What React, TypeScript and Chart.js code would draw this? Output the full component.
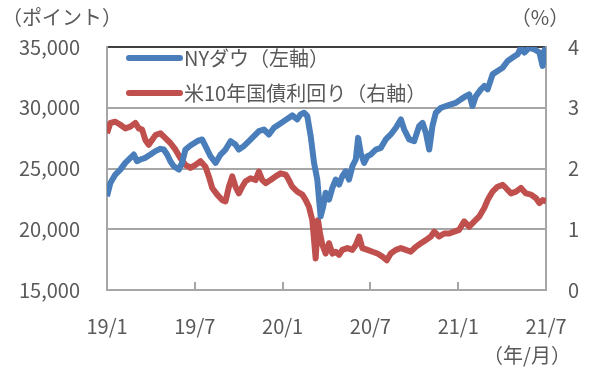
import React, { useEffect, useRef } from "react";
import { Chart, registerables } from "chart.js";

Chart.register(...registerables);

const xTickLabels = ["19/1", "19/7", "20/1", "20/7", "21/1", "21/7"];
const seriesNames = ["NYダウ（左軸）", "米10年国債利回り（右軸）"];

// months since 2019/1
const dowMonths = [
  0, 0.23, 0.57, 0.91, 1.25, 1.6, 1.83, 2.05, 2.28, 2.62,
  2.97, 3.31, 3.65, 3.88, 4.11, 4.33, 4.56, 4.91, 5.13, 5.36,
  5.7, 6.16, 6.5, 6.73, 7.07, 7.42, 7.76, 8.1, 8.44, 8.78,
  9.01, 9.35, 9.7, 10.04, 10.38, 10.72, 11.07, 11.41, 11.75, 12.09,
  12.43, 12.66, 13.0, 13.23, 13.46, 13.69, 13.92, 14.15, 14.37, 14.49,
  14.6, 14.78, 14.94, 15.17, 15.4, 15.63, 15.86, 16.08, 16.31, 16.54,
  16.77, 17.0, 17.16, 17.34, 17.57, 17.8, 18.02, 18.37, 18.71, 19.05,
  19.39, 19.74, 20.08, 20.31, 20.65, 20.99, 21.33, 21.56, 21.79, 22.02,
  22.24, 22.47, 22.82, 23.16, 23.5, 23.84, 24.18, 24.53, 24.75, 24.98,
  25.21, 25.55, 25.78, 26.01, 26.35, 26.69, 27.04, 27.38, 27.72, 28.06,
  28.29, 28.52, 28.86, 29.2, 29.55, 29.77, 29.88, 30.0,
];
const dowValues = [
  22710, 23810, 24500, 24910, 25460, 25880, 26150, 25600, 25740, 25880,
  26150, 26430, 26620, 26560, 26150, 25600, 25190, 24910, 25460, 26560,
  26890, 27250, 27390, 26840, 26010, 25460, 26150, 26560, 27250, 26970,
  26560, 26840, 27250, 27660, 28070, 28210, 27800, 28350, 28620, 28900,
  29180, 29370, 29040, 29450, 29590, 29310, 27660, 25460, 24090, 22440,
  21060, 21890, 23000, 22440, 23400, 24090, 23680, 24360, 24770, 24090,
  25190, 25740, 27520, 26290, 25460, 26010, 26150, 26560, 26700, 27390,
  27800, 28350, 29040, 28210, 27390, 27250, 28490, 28760, 27940, 26560,
  28490, 29590, 30000, 30140, 30280, 30410, 30690, 30960, 31100, 30140,
  30960, 31510, 31790, 31510, 32750, 33030, 33300, 33850, 34130, 34400,
  34950, 34540, 34950, 34810, 34540, 33440, 34680, 34950,
];

const yieldMonths = [
  0, 0.23, 0.57, 0.91, 1.25, 1.6, 1.94, 2.17, 2.4, 2.62,
  2.85, 3.08, 3.31, 3.65, 3.99, 4.33, 4.68, 5.02, 5.36, 5.7,
  6.05, 6.39, 6.73, 6.96, 7.19, 7.53, 7.87, 8.1, 8.33, 8.56,
  8.78, 9.01, 9.24, 9.47, 9.81, 10.15, 10.38, 10.61, 10.84, 11.18,
  11.52, 11.86, 12.21, 12.43, 12.66, 13.0, 13.35, 13.58, 13.8, 14.03,
  14.26, 14.42, 14.56, 14.72, 14.94, 15.17, 15.4, 15.63, 15.86, 16.08,
  16.43, 16.77, 17.0, 17.23, 17.45, 17.8, 18.14, 18.48, 18.82, 19.12,
  19.39, 19.74, 20.08, 20.42, 20.76, 21.1, 21.45, 21.79, 22.13, 22.36,
  22.7, 23.04, 23.39, 23.73, 24.07, 24.41, 24.75, 25.1, 25.44, 25.78,
  26.01, 26.35, 26.69, 27.04, 27.26, 27.61, 27.95, 28.29, 28.63, 28.98,
  29.32, 29.55, 29.77, 30.0,
];
const yieldValues = [
  2.58, 2.75, 2.77, 2.72, 2.66, 2.69, 2.75, 2.66, 2.64, 2.47,
  2.39, 2.47, 2.55, 2.58, 2.5, 2.42, 2.31, 2.17, 2.06, 2.01,
  2.06, 2.12, 2.03, 1.87, 1.68, 1.57, 1.48, 1.46, 1.7, 1.87,
  1.7, 1.59, 1.7, 1.79, 1.84, 1.81, 1.95, 1.81, 1.76, 1.81,
  1.87, 1.92, 1.9, 1.81, 1.7, 1.62, 1.57, 1.48, 1.37, 1.15,
  0.52, 1.15, 0.93, 0.74, 0.6, 0.77, 0.6, 0.63, 0.58, 0.66,
  0.69, 0.66, 0.74, 0.88, 0.69, 0.66, 0.63, 0.6, 0.55, 0.49,
  0.6, 0.66, 0.69, 0.66, 0.63, 0.71, 0.77, 0.82, 0.88, 0.96,
  0.88, 0.93, 0.93, 0.96, 0.99, 1.13, 1.04, 1.13, 1.21, 1.35,
  1.48, 1.62, 1.7, 1.73, 1.68, 1.59, 1.62, 1.68, 1.59, 1.57,
  1.51, 1.43, 1.48, 1.46,
];

const BLUE = "#4a7ebb";
const RED = "#c0504d";
const TEXT = "#595959";
const GRID = "#a6a6a6";
const FONT = "'Noto Sans CJK JP', 'Noto Sans', sans-serif";

export default function App() {
  const ref = useRef<HTMLCanvasElement | null>(null);
  useEffect(() => {
    if (!ref.current) return;
    const overlay = {
      id: "overlay",
      afterDraw(chart: any) {
        const { ctx, chartArea } = chart;
        const xs = chart.scales.x;
        ctx.save();
        // inward x ticks
        ctx.strokeStyle = GRID;
        ctx.lineWidth = 2;
        for (let v = 6; v < 30; v += 6) {
          const px = Math.round(xs.getPixelForValue(v));
          ctx.beginPath();
          ctx.moveTo(px, chartArea.bottom);
          ctx.lineTo(px, chartArea.bottom - 8);
          ctx.stroke();
        }
        // legend
        ctx.lineCap = "round";
        ctx.lineWidth = 6;
        const ly = [58, 93];
        const colors = [BLUE, RED];
        ctx.font = `20px ${FONT}`;
        ctx.textBaseline = "middle";
        ctx.textAlign = "left";
        for (let i = 0; i < 2; i++) {
          ctx.strokeStyle = colors[i];
          ctx.beginPath();
          ctx.moveTo(129, ly[i]);
          ctx.lineTo(180, ly[i]);
          ctx.stroke();
          ctx.fillStyle = TEXT;
          ctx.fillText(seriesNames[i], 184, ly[i]);
        }
        // axis titles
        ctx.textAlign = "center";
        ctx.fillText("（ポイント）", 62, 17);
        ctx.fillText("（%）", 540, 17);
        ctx.fillText("（年/月）", 527, 355);
        ctx.restore();
      },
    };
    const chart = new Chart(ref.current, {
      type: "line",
      data: {
        datasets: [
          {
            label: seriesNames[0],
            data: dowMonths.map((m, i) => ({ x: m, y: dowValues[i] })),
            borderColor: BLUE,
            borderWidth: 6,
            borderJoinStyle: "round",
            pointRadius: 0,
            yAxisID: "y",
            tension: 0,
          },
          {
            label: seriesNames[1],
            data: yieldMonths.map((m, i) => ({ x: m, y: yieldValues[i] })),
            borderColor: RED,
            borderWidth: 6,
            borderJoinStyle: "round",
            pointRadius: 0,
            yAxisID: "y2",
            tension: 0,
          },
        ],
      },
      plugins: [overlay],
      options: {
        animation: false,
        responsive: false,
        maintainAspectRatio: false,
        layout: { padding: { top: 47, left: 0, right: 0, bottom: 0 } },
        plugins: { legend: { display: false }, tooltip: { enabled: false } },
        scales: {
          x: {
            type: "linear",
            min: 0,
            max: 30,
            afterFit(s: any) { s.height = 81; },
            afterBuildTicks(s: any) {
              s.ticks = [0, 6, 12, 18, 24, 30].map((v) => ({ value: v }));
            },
            ticks: {
              callback: (v: any) => xTickLabels[Math.round(Number(v) / 6)],
              color: TEXT,
              font: { size: 20, family: FONT },
              padding: 24,
              maxRotation: 0,
              autoSkip: false,
            },
            grid: { display: false, drawTicks: false },
            border: { display: true, color: GRID, width: 2 },
          },
          y: {
            position: "left",
            min: 15000,
            max: 35000,
            afterFit(s: any) { s.width = 107; },
            ticks: {
              stepSize: 5000,
              callback: (v: any) => Number(v).toLocaleString("en-US"),
              color: TEXT,
              font: { size: 20, family: FONT },
              padding: 27,
            },
            grid: {
              drawTicks: false,
              color: (c: any) => (c.tick && c.tick.value === 35000 ? "#404040" : GRID),
              lineWidth: 2,
            },
            border: { display: true, color: GRID, width: 2 },
          },
          y2: {
            position: "right",
            min: 0,
            max: 4,
            afterFit(s: any) { s.width = 54; },
            ticks: {
              stepSize: 1,
              color: TEXT,
              font: { size: 20, family: FONT },
              padding: 22,
            },
            grid: { drawOnChartArea: false, drawTicks: false },
            border: { display: true, color: GRID, width: 2 },
          },
        },
      },
    } as any);
    return () => chart.destroy();
  }, []);
  return (
    <div style={{ position: "absolute", left: 0, top: 0, width: 600, height: 371, background: "#fff" }}>
      <canvas ref={ref} width={600} height={371} style={{ width: 600, height: 371 }} />
    </div>
  );
}
